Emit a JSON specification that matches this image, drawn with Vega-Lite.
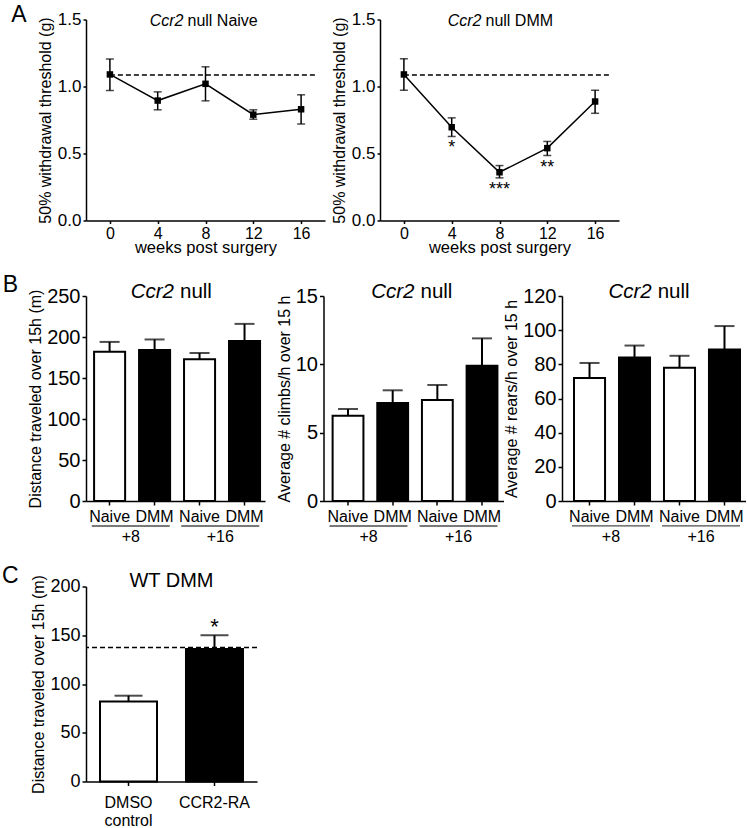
{
"$schema": "https://vega.github.io/schema/vega-lite/v6.json",
"background": "white",
"padding": {"left": 2, "top": 3.5, "right": 0, "bottom": 0},
"config": {
  "font": "Liberation Sans",
  "view": {"stroke": null},
  "axis": {"domainColor": "black", "domainWidth": 1.5, "tickColor": "black", "tickWidth": 1.5, "tickSize": 4, "labelColor": "black", "titleColor": "black", "grid": false, "titleFontWeight": "normal", "labelFontSize": 17, "titleFontSize": 16, "labelPadding": 2, "labelOverlap": false},
  "text": {"color": "black"}
},
"spacing": 16.5,
"vconcat": [
  {
    "bounds": "flush",
    "spacing": 55,
    "hconcat": [
      {
        "width": 239, "height": 201,
        "layer": [
          {
            "data": {"values": [
              {"week": 0, "mean": 1.09, "lo": 0.97, "hi": 1.205},
              {"week": 4, "mean": 0.895, "lo": 0.826, "hi": 0.96},
              {"week": 8, "mean": 1.02, "lo": 0.893, "hi": 1.147},
              {"week": 12, "mean": 0.79, "lo": 0.756, "hi": 0.826},
              {"week": 16, "mean": 0.83, "lo": 0.72, "hi": 0.938}
            ]},
            "encoding": {
              "x": {"field": "week", "type": "quantitative", "scale": {"domain": [-2, 18], "nice": false, "zero": false}, "axis": {"values": [0, 4, 8, 12, 16], "title": "weeks post surgery", "labelFontSize": 16, "titleFontSize": 16.5, "tickSize": 3, "labelPadding": 2, "titlePadding": -2, "labelFlush": false, "labelOverlap": false}},
              "y": {"field": "mean", "type": "quantitative", "scale": {"domain": [0, 1.5], "nice": false}, "axis": {"values": [0, 0.5, 1, 1.5], "format": ".1f", "title": "50% withdrawal threshold (g)", "labelFontSize": 17, "titleFontSize": 16, "tickSize": 3, "labelPadding": 2, "titlePadding": 4, "labelOverlap": false}}
            },
            "layer": [
              {"mark": {"type": "line", "color": "black", "strokeWidth": 1.5}},
              {"mark": {"type": "rule", "color": "black", "strokeWidth": 1.5}, "encoding": {"y": {"field": "lo", "type": "quantitative"}, "y2": {"field": "hi"}}},
              {"mark": {"type": "tick", "orient": "horizontal", "size": 8, "thickness": 1.5, "color": "black"}, "encoding": {"y": {"field": "lo", "type": "quantitative"}}},
              {"mark": {"type": "tick", "orient": "horizontal", "size": 8, "thickness": 1.5, "color": "black"}, "encoding": {"y": {"field": "hi", "type": "quantitative"}}},
              {"mark": {"type": "point", "shape": "square", "filled": true, "size": 42, "color": "black", "opacity": 1}}
            ]
          },
          {"data": {"values": [{"ref": "baseline"}]}, "mark": {"type": "rule", "strokeDash": [5, 3], "strokeWidth": 1.5, "color": "black"}, "encoding": {"x": {"datum": 0, "type": "quantitative", "scale": {"domain": [-2, 18], "nice": false, "zero": false}}, "x2": {"datum": 17.3}, "y": {"datum": 1.085, "type": "quantitative", "scale": {"domain": [0, 1.5], "nice": false}}}},
          {"data": {"values": [{"t": "Ccr2"}]}, "mark": {"type": "text", "fontStyle": "italic", "fontSize": 16, "align": "right", "baseline": "alphabetic", "dx": -22, "dy": 6}, "encoding": {"x": {"datum": 8, "type": "quantitative", "scale": {"domain": [-2, 18], "nice": false, "zero": false}}, "y": {"datum": 1.5, "type": "quantitative", "scale": {"domain": [0, 1.5], "nice": false}}, "text": {"field": "t"}}},
          {"data": {"values": [{"t": "null Naive"}]}, "mark": {"type": "text", "fontSize": 16, "align": "left", "baseline": "alphabetic", "dx": -18, "dy": 6}, "encoding": {"x": {"datum": 8, "type": "quantitative", "scale": {"domain": [-2, 18], "nice": false, "zero": false}}, "y": {"datum": 1.5, "type": "quantitative", "scale": {"domain": [0, 1.5], "nice": false}}, "text": {"field": "t"}}},
          {"data": {"values": [{"panel": "A"}]}, "mark": {"type": "text", "fontSize": 23, "align": "left", "baseline": "alphabetic"}, "encoding": {"x": {"datum": -8.25, "type": "quantitative", "scale": {"domain": [-2, 18], "nice": false, "zero": false}}, "y": {"datum": 1.478, "type": "quantitative", "scale": {"domain": [0, 1.5], "nice": false}}, "text": {"field": "panel"}}}
        ]
      },
      {
        "width": 239, "height": 201,
        "layer": [
          {
            "data": {"values": [
              {"week": 0, "mean": 1.09, "lo": 0.972, "hi": 1.207, "sig": ""},
              {"week": 4, "mean": 0.696, "lo": 0.627, "hi": 0.766, "sig": "*"},
              {"week": 8, "mean": 0.36, "lo": 0.318, "hi": 0.41, "sig": "***"},
              {"week": 12, "mean": 0.54, "lo": 0.485, "hi": 0.59, "sig": "**"},
              {"week": 16, "mean": 0.888, "lo": 0.8, "hi": 0.972, "sig": ""}
            ]},
            "encoding": {
              "x": {"field": "week", "type": "quantitative", "scale": {"domain": [-2, 18], "nice": false, "zero": false}, "axis": {"values": [0, 4, 8, 12, 16], "title": "weeks post surgery", "labelFontSize": 16, "titleFontSize": 16.5, "tickSize": 3, "labelPadding": 2, "titlePadding": -2, "labelFlush": false, "labelOverlap": false}},
              "y": {"field": "mean", "type": "quantitative", "scale": {"domain": [0, 1.5], "nice": false}, "axis": {"values": [0, 0.5, 1, 1.5], "format": ".1f", "title": "50% withdrawal threshold (g)", "labelFontSize": 17, "titleFontSize": 16, "tickSize": 3, "labelPadding": 2, "titlePadding": 4, "labelOverlap": false}}
            },
            "layer": [
              {"mark": {"type": "line", "color": "black", "strokeWidth": 1.5}},
              {"mark": {"type": "rule", "color": "black", "strokeWidth": 1.5}, "encoding": {"y": {"field": "lo", "type": "quantitative"}, "y2": {"field": "hi"}}},
              {"mark": {"type": "tick", "orient": "horizontal", "size": 8, "thickness": 1.5, "color": "black"}, "encoding": {"y": {"field": "lo", "type": "quantitative"}}},
              {"mark": {"type": "tick", "orient": "horizontal", "size": 8, "thickness": 1.5, "color": "black"}, "encoding": {"y": {"field": "hi", "type": "quantitative"}}},
              {"mark": {"type": "point", "shape": "square", "filled": true, "size": 42, "color": "black", "opacity": 1}},
              {"mark": {"type": "text", "fontSize": 18, "baseline": "top", "dy": 3}, "encoding": {"y": {"field": "lo", "type": "quantitative"}, "text": {"field": "sig"}}}
            ]
          },
          {"data": {"values": [{"ref": "baseline"}]}, "mark": {"type": "rule", "strokeDash": [5, 3], "strokeWidth": 1.5, "color": "black"}, "encoding": {"x": {"datum": 0, "type": "quantitative", "scale": {"domain": [-2, 18], "nice": false, "zero": false}}, "x2": {"datum": 17.3}, "y": {"datum": 1.085, "type": "quantitative", "scale": {"domain": [0, 1.5], "nice": false}}}},
          {"data": {"values": [{"t": "Ccr2"}]}, "mark": {"type": "text", "fontStyle": "italic", "fontSize": 16, "align": "right", "baseline": "alphabetic", "dx": -18, "dy": 6}, "encoding": {"x": {"datum": 8, "type": "quantitative", "scale": {"domain": [-2, 18], "nice": false, "zero": false}}, "y": {"datum": 1.5, "type": "quantitative", "scale": {"domain": [0, 1.5], "nice": false}}, "text": {"field": "t"}}},
          {"data": {"values": [{"t": "null DMM"}]}, "mark": {"type": "text", "fontSize": 16, "align": "left", "baseline": "alphabetic", "dx": -14, "dy": 6}, "encoding": {"x": {"datum": 8, "type": "quantitative", "scale": {"domain": [-2, 18], "nice": false, "zero": false}}, "y": {"datum": 1.5, "type": "quantitative", "scale": {"domain": [0, 1.5], "nice": false}}, "text": {"field": "t"}}}
        ]
      }
    ]
  },
  {
    "spacing": 19.5,
    "vconcat": [
      {
        "bounds": "flush",
        "spacing": 58.5,
        "hconcat": [
          {
            "width": 179, "height": 205,
            "resolve": {"scale": {"x": "independent"}},
            "layer": [
              {
                "data": {"values": [
                  {"grp": "Naive +8", "trt": "Naive", "mean": 182, "hi": 194},
                  {"grp": "DMM +8", "trt": "DMM", "mean": 184, "hi": 197},
                  {"grp": "Naive +16", "trt": "Naive", "mean": 173, "hi": 180.5},
                  {"grp": "DMM +16", "trt": "DMM", "mean": 195, "hi": 216}
                ]},
                "encoding": {
                  "x": {"field": "grp", "type": "nominal", "sort": null, "scale": {"type": "band", "paddingInner": 0.31, "paddingOuter": 0.145, "align": 0.62}, "axis": {"title": null, "labelExpr": "split(datum.label, ' ')[0]", "labelAngle": 0, "labelFontSize": 16, "labelPadding": 3, "tickSize": 4}},
                  "y": {"field": "mean", "type": "quantitative", "scale": {"domain": [0, 250], "nice": false}, "axis": {"values": [0, 50, 100, 150, 200, 250], "title": "Distance traveled over 15h (m)", "labelFontSize": 20, "titleFontSize": 16, "tickSize": 4, "labelPadding": 2, "titlePadding": 3, "labelOverlap": false}}
                },
                "layer": [
                  {"mark": {"type": "bar", "stroke": "black", "strokeWidth": 2}, "encoding": {"fill": {"field": "trt", "type": "nominal", "scale": {"domain": ["Naive", "DMM"], "range": ["white", "black"]}, "legend": null}}},
                  {"mark": {"type": "rule", "color": "black", "strokeWidth": 2}, "encoding": {"y": {"field": "mean", "type": "quantitative"}, "y2": {"field": "hi"}}},
                  {"mark": {"type": "tick", "orient": "horizontal", "size": 20, "thickness": 2, "color": "black"}, "encoding": {"y": {"field": "hi", "type": "quantitative"}}}
                ]
              },
              {
                "layer": [
                  {"data": {"values": [{"period": "+8"}, {"period": "+16"}]}, "mark": {"type": "tick", "orient": "horizontal", "size": 78, "thickness": 1.3, "color": "black"}, "encoding": {"x": {"field": "period", "type": "nominal", "scale": {"type": "band", "domain": ["+8", "+16"], "paddingInner": 0, "paddingOuter": 0}, "axis": null}, "y": {"datum": -30.5, "scale": {"domain": [0, 250], "nice": false}, "axis": {"values": [0, 50, 100, 150, 200, 250], "title": "Distance traveled over 15h (m)", "labelFontSize": 20, "titleFontSize": 16, "tickSize": 4, "labelPadding": 2, "titlePadding": 3, "labelOverlap": false}}}},
                  {"data": {"values": [{"period": "+8"}, {"period": "+16"}]}, "mark": {"type": "text", "fontSize": 16, "baseline": "alphabetic"}, "encoding": {"x": {"field": "period", "type": "nominal", "scale": {"type": "band", "domain": ["+8", "+16"], "paddingInner": 0, "paddingOuter": 0}, "axis": null}, "y": {"datum": -50, "scale": {"domain": [0, 250], "nice": false}}, "text": {"field": "period"}}},
                  {"data": {"values": [{"t": "Ccr2"}]}, "mark": {"type": "text", "fontStyle": "italic", "fontSize": 20.5, "align": "right", "baseline": "alphabetic", "dx": -1.5, "dy": 2}, "encoding": {"x": {"datum": "+8", "type": "nominal", "bandPosition": 1, "scale": {"type": "band", "domain": ["+8", "+16"], "paddingInner": 0, "paddingOuter": 0}, "axis": null}, "y": {"datum": 250, "scale": {"domain": [0, 250], "nice": false}}, "text": {"field": "t"}}},
                  {"data": {"values": [{"t": "null"}]}, "mark": {"type": "text", "fontSize": 20.5, "align": "left", "baseline": "alphabetic", "dx": 4.5, "dy": 2}, "encoding": {"x": {"datum": "+8", "type": "nominal", "bandPosition": 1, "scale": {"type": "band", "domain": ["+8", "+16"], "paddingInner": 0, "paddingOuter": 0}, "axis": null}, "y": {"datum": 250, "scale": {"domain": [0, 250], "nice": false}}, "text": {"field": "t"}}},
                  {"data": {"values": [{"panel": "B"}]}, "mark": {"type": "text", "fontSize": 23, "align": "left", "baseline": "alphabetic"}, "encoding": {"x": {"datum": "+8", "type": "nominal", "bandPosition": -0.93, "scale": {"type": "band", "domain": ["+8", "+16"], "paddingInner": 0, "paddingOuter": 0}, "axis": null}, "y": {"datum": 254.9, "scale": {"domain": [0, 250], "nice": false}}, "text": {"field": "panel"}}}
                ]
              }
            ]
          },
          {
            "width": 180, "height": 205,
            "resolve": {"scale": {"x": "independent"}},
            "layer": [
              {
                "data": {"values": [
                  {"grp": "Naive +8", "trt": "Naive", "mean": 6.24, "hi": 6.73},
                  {"grp": "DMM +8", "trt": "DMM", "mean": 7.17, "hi": 8.1},
                  {"grp": "Naive +16", "trt": "Naive", "mean": 7.39, "hi": 8.49},
                  {"grp": "DMM +16", "trt": "DMM", "mean": 9.9, "hi": 11.9}
                ]},
                "encoding": {
                  "x": {"field": "grp", "type": "nominal", "sort": null, "scale": {"type": "band", "paddingInner": 0.31, "paddingOuter": 0.17, "align": 0.6}, "axis": {"title": null, "labelExpr": "split(datum.label, ' ')[0]", "labelAngle": 0, "labelFontSize": 16, "labelPadding": 3, "tickSize": 4}},
                  "y": {"field": "mean", "type": "quantitative", "scale": {"domain": [0, 15], "nice": false}, "axis": {"values": [0, 5, 10, 15], "title": "Average # climbs/h over 15 h", "labelFontSize": 20, "titleFontSize": 16, "tickSize": 4, "labelPadding": 2, "titlePadding": 3, "labelOverlap": false}}
                },
                "layer": [
                  {"mark": {"type": "bar", "stroke": "black", "strokeWidth": 2}, "encoding": {"fill": {"field": "trt", "type": "nominal", "scale": {"domain": ["Naive", "DMM"], "range": ["white", "black"]}, "legend": null}}},
                  {"mark": {"type": "rule", "color": "black", "strokeWidth": 2}, "encoding": {"y": {"field": "mean", "type": "quantitative"}, "y2": {"field": "hi"}}},
                  {"mark": {"type": "tick", "orient": "horizontal", "size": 20, "thickness": 2, "color": "black"}, "encoding": {"y": {"field": "hi", "type": "quantitative"}}}
                ]
              },
              {
                "layer": [
                  {"data": {"values": [{"period": "+8"}, {"period": "+16"}]}, "mark": {"type": "tick", "orient": "horizontal", "size": 78, "thickness": 1.3, "color": "black"}, "encoding": {"x": {"field": "period", "type": "nominal", "scale": {"type": "band", "domain": ["+8", "+16"], "paddingInner": 0, "paddingOuter": 0}, "axis": null}, "y": {"datum": -1.83, "scale": {"domain": [0, 15], "nice": false}, "axis": {"values": [0, 5, 10, 15], "title": "Average # climbs/h over 15 h", "labelFontSize": 20, "titleFontSize": 16, "tickSize": 4, "labelPadding": 2, "titlePadding": 3, "labelOverlap": false}}}},
                  {"data": {"values": [{"period": "+8"}, {"period": "+16"}]}, "mark": {"type": "text", "fontSize": 16, "baseline": "alphabetic"}, "encoding": {"x": {"field": "period", "type": "nominal", "scale": {"type": "band", "domain": ["+8", "+16"], "paddingInner": 0, "paddingOuter": 0}, "axis": null}, "y": {"datum": -3.0, "scale": {"domain": [0, 15], "nice": false}}, "text": {"field": "period"}}},
                  {"data": {"values": [{"t": "Ccr2"}]}, "mark": {"type": "text", "fontStyle": "italic", "fontSize": 20.5, "align": "right", "baseline": "alphabetic", "dx": 1, "dy": 2}, "encoding": {"x": {"datum": "+8", "type": "nominal", "bandPosition": 1, "scale": {"type": "band", "domain": ["+8", "+16"], "paddingInner": 0, "paddingOuter": 0}, "axis": null}, "y": {"datum": 15, "scale": {"domain": [0, 15], "nice": false}}, "text": {"field": "t"}}},
                  {"data": {"values": [{"t": "null"}]}, "mark": {"type": "text", "fontSize": 20.5, "align": "left", "baseline": "alphabetic", "dx": 7, "dy": 2}, "encoding": {"x": {"datum": "+8", "type": "nominal", "bandPosition": 1, "scale": {"type": "band", "domain": ["+8", "+16"], "paddingInner": 0, "paddingOuter": 0}, "axis": null}, "y": {"datum": 15, "scale": {"domain": [0, 15], "nice": false}}, "text": {"field": "t"}}}
                ]
              }
            ]
          },
          {
            "width": 184, "height": 205,
            "resolve": {"scale": {"x": "independent"}},
            "layer": [
              {
                "data": {"values": [
                  {"grp": "Naive +8", "trt": "Naive", "mean": 72, "hi": 80.8},
                  {"grp": "DMM +8", "trt": "DMM", "mean": 84, "hi": 91},
                  {"grp": "Naive +16", "trt": "Naive", "mean": 78, "hi": 85},
                  {"grp": "DMM +16", "trt": "DMM", "mean": 88.7, "hi": 102.4}
                ]},
                "encoding": {
                  "x": {"field": "grp", "type": "nominal", "sort": null, "scale": {"type": "band", "paddingInner": 0.31, "paddingOuter": 0.2, "align": 0.667}, "axis": {"title": null, "labelExpr": "split(datum.label, ' ')[0]", "labelAngle": 0, "labelFontSize": 16, "labelPadding": 3, "tickSize": 4}},
                  "y": {"field": "mean", "type": "quantitative", "scale": {"domain": [0, 120], "nice": false}, "axis": {"values": [0, 20, 40, 60, 80, 100, 120], "tickCount": 7, "title": "Average # rears/h over 15 h", "labelFontSize": 20, "titleFontSize": 16, "tickSize": 4, "labelPadding": 2, "titlePadding": 3, "labelOverlap": false}}
                },
                "layer": [
                  {"mark": {"type": "bar", "stroke": "black", "strokeWidth": 2}, "encoding": {"fill": {"field": "trt", "type": "nominal", "scale": {"domain": ["Naive", "DMM"], "range": ["white", "black"]}, "legend": null}}},
                  {"mark": {"type": "rule", "color": "black", "strokeWidth": 2}, "encoding": {"y": {"field": "mean", "type": "quantitative"}, "y2": {"field": "hi"}}},
                  {"mark": {"type": "tick", "orient": "horizontal", "size": 20, "thickness": 2, "color": "black"}, "encoding": {"y": {"field": "hi", "type": "quantitative"}}}
                ]
              },
              {
                "layer": [
                  {"data": {"values": [{"period": "+8"}, {"period": "+16"}]}, "mark": {"type": "tick", "orient": "horizontal", "size": 78, "thickness": 1.3, "color": "black"}, "encoding": {"x": {"field": "period", "type": "nominal", "scale": {"type": "band", "domain": ["+8", "+16"], "paddingInner": 0, "paddingOuter": 0.0222, "align": 1}, "axis": null}, "y": {"datum": -14.6, "scale": {"domain": [0, 120], "nice": false}, "axis": {"values": [0, 20, 40, 60, 80, 100, 120], "tickCount": 7, "title": "Average # rears/h over 15 h", "labelFontSize": 20, "titleFontSize": 16, "tickSize": 4, "labelPadding": 2, "titlePadding": 3, "labelOverlap": false}}}},
                  {"data": {"values": [{"period": "+8"}, {"period": "+16"}]}, "mark": {"type": "text", "fontSize": 16, "baseline": "alphabetic"}, "encoding": {"x": {"field": "period", "type": "nominal", "scale": {"type": "band", "domain": ["+8", "+16"], "paddingInner": 0, "paddingOuter": 0.0222, "align": 1}, "axis": null}, "y": {"datum": -24, "scale": {"domain": [0, 120], "nice": false}}, "text": {"field": "period"}}},
                  {"data": {"values": [{"t": "Ccr2"}]}, "mark": {"type": "text", "fontStyle": "italic", "fontSize": 20.5, "align": "right", "baseline": "alphabetic", "dx": -4.3, "dy": 2}, "encoding": {"x": {"datum": "+8", "type": "nominal", "bandPosition": 1, "scale": {"type": "band", "domain": ["+8", "+16"], "paddingInner": 0, "paddingOuter": 0.0222, "align": 1}, "axis": null}, "y": {"datum": 120, "scale": {"domain": [0, 120], "nice": false}}, "text": {"field": "t"}}},
                  {"data": {"values": [{"t": "null"}]}, "mark": {"type": "text", "fontSize": 20.5, "align": "left", "baseline": "alphabetic", "dx": 1.7, "dy": 2}, "encoding": {"x": {"datum": "+8", "type": "nominal", "bandPosition": 1, "scale": {"type": "band", "domain": ["+8", "+16"], "paddingInner": 0, "paddingOuter": 0.0222, "align": 1}, "axis": null}, "y": {"datum": 120, "scale": {"domain": [0, 120], "nice": false}}, "text": {"field": "t"}}}
                ]
              }
            ]
          }
        ]
      },
      {
        "width": 171, "height": 195,
        "layer": [
          {
            "data": {"values": [
              {"grp": "DMSO control", "trt": "DMSO", "mean": 82, "hi": 88, "sig": ""},
              {"grp": "CCR2-RA", "trt": "CCR2-RA", "mean": 136, "hi": 150, "sig": "*"}
            ]},
            "encoding": {
              "x": {"field": "grp", "type": "nominal", "sort": null, "scale": {"type": "band", "domain": ["DMSO control", "CCR2-RA"], "paddingInner": 0.337, "paddingOuter": 0.163}, "axis": {"title": null, "labelExpr": "datum.label == 'DMSO control' ? ['DMSO', 'control'] : datum.label", "labelAngle": 0, "labelFontSize": 16, "labelPadding": 9, "labelLineHeight": 18, "tickSize": 4}},
              "y": {"field": "mean", "type": "quantitative", "scale": {"domain": [0, 200], "nice": false}, "axis": {"values": [0, 50, 100, 150, 200], "title": "Distance traveled over 15h (m)", "labelFontSize": 18, "titleFontSize": 16, "tickSize": 4, "labelPadding": 2, "titlePadding": 3, "labelOverlap": false}}
            },
            "layer": [
              {"mark": {"type": "bar", "stroke": "black", "strokeWidth": 2}, "encoding": {"fill": {"field": "trt", "type": "nominal", "scale": {"domain": ["DMSO", "CCR2-RA"], "range": ["white", "black"]}, "legend": null}}},
              {"mark": {"type": "rule", "color": "black", "strokeWidth": 2}, "encoding": {"y": {"field": "mean", "type": "quantitative"}, "y2": {"field": "hi"}}},
              {"mark": {"type": "tick", "orient": "horizontal", "size": 28, "thickness": 2, "color": "black"}, "encoding": {"y": {"field": "hi", "type": "quantitative"}}},
              {"mark": {"type": "text", "fontSize": 22, "baseline": "alphabetic", "dy": -1}, "encoding": {"y": {"field": "hi", "type": "quantitative"}, "text": {"field": "sig"}}}
            ]
          },
          {"data": {"values": [{"ref": "CCR2-RA level"}]}, "mark": {"type": "rule", "strokeDash": [5, 3], "strokeWidth": 1.5, "color": "black"}, "encoding": {"y": {"datum": 137.5, "scale": {"domain": [0, 200], "nice": false}}}},
          {"data": {"values": [{"t": "WT DMM"}]}, "mark": {"type": "text", "fontSize": 20, "align": "center", "baseline": "alphabetic"}, "encoding": {"x": {"datum": "DMSO control", "type": "nominal", "bandPosition": 1.254, "scale": {"type": "band", "domain": ["DMSO control", "CCR2-RA"], "paddingInner": 0.337, "paddingOuter": 0.163}}, "y": {"datum": 200, "scale": {"domain": [0, 200], "nice": false}}, "text": {"field": "t"}}},
          {"data": {"values": [{"panel": "C"}]}, "mark": {"type": "text", "fontSize": 23, "align": "left", "baseline": "alphabetic"}, "encoding": {"x": {"datum": "DMSO control", "type": "nominal", "bandPosition": -1.719, "scale": {"type": "band", "domain": ["DMSO control", "CCR2-RA"], "paddingInner": 0.337, "paddingOuter": 0.163}}, "y": {"datum": 204.1, "scale": {"domain": [0, 200], "nice": false}}, "text": {"field": "panel"}}}
        ]
      }
    ]
  }
]
}
